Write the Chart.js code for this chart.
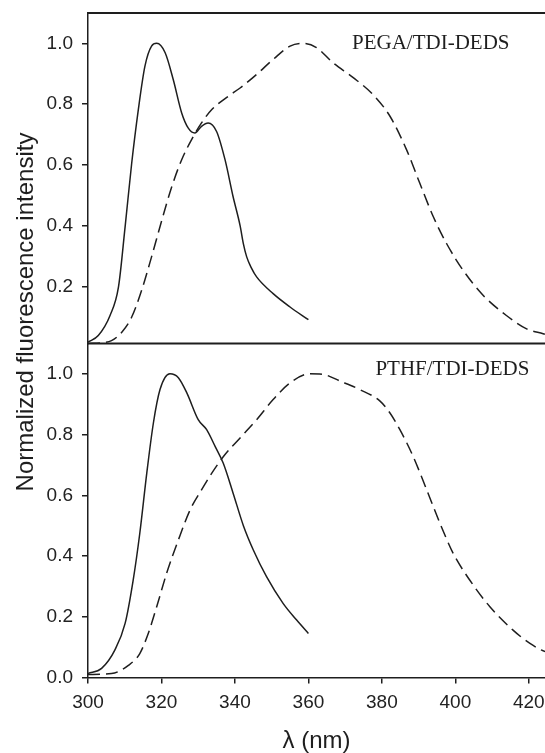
<!DOCTYPE html>
<html>
<head>
<meta charset="utf-8">
<script src="https://cdn.jsdelivr.net/npm/chart.js@4.4.1/dist/chart.umd.min.js"></script>
<style>
html,body{margin:0;padding:0;background:#fff;}
canvas{display:block;}
</style>
</head>
<body>
<canvas id="c" width="545" height="753"></canvas>
<script>
// ---- data ----
const xTicks = [300, 320, 340, 360, 380, 400, 420];
const topTicks = [0.2, 0.4, 0.6, 0.8, 1.0];
const bottomTicks = [0.0, 0.2, 0.4, 0.6, 0.8, 1.0];

const pegaSolidX = [300, 302.8, 306, 308.3, 310.1, 311.9, 313.7, 315.5, 317.3, 318.7, 321, 323.2, 325.5, 327.3, 329.1, 330.9, 332.7, 335, 337.3, 339.5, 341.4, 342.3, 343.2, 344.5, 345.9, 350.4, 355, 360];
const pegaSolidY = [0.016, 0.038, 0.104, 0.198, 0.396, 0.606, 0.782, 0.925, 0.991, 1.0, 0.969, 0.881, 0.771, 0.721, 0.705, 0.727, 0.738, 0.71, 0.617, 0.495, 0.40, 0.34, 0.297, 0.26, 0.231, 0.176, 0.132, 0.09];

const pegaDashX = [300, 303.7, 306.4, 309.2, 311.9, 314.6, 317.3, 320.1, 322.8, 325.5, 328.2, 330.9, 333.7, 338.2, 341.4, 345.9, 350.4, 355, 358.6, 362.2, 366.7, 372.2, 377.6, 382.2, 386.7, 390.3, 394, 397.6, 402.1, 407.6, 413.9, 419.4, 423.9, 425];
const pegaDashY = [0.012, 0.014, 0.021, 0.049, 0.099, 0.187, 0.297, 0.418, 0.528, 0.617, 0.683, 0.738, 0.782, 0.826, 0.853, 0.898, 0.947, 0.991, 1.0, 0.986, 0.936, 0.887, 0.831, 0.76, 0.65, 0.54, 0.429, 0.341, 0.253, 0.17, 0.104, 0.06, 0.044, 0.04];

const pthfSolidX = [300, 303.7, 307.3, 310.1, 312.3, 314.1, 316, 317.8, 319.6, 322.3, 324.6, 326.9, 330, 332.3, 334.6, 336.8, 339.5, 342.3, 345, 348.6, 353.1, 356.8, 360];
const pthfSolidY = [0.013, 0.03, 0.09, 0.178, 0.321, 0.475, 0.673, 0.838, 0.948, 1.0, 0.987, 0.937, 0.849, 0.816, 0.761, 0.706, 0.607, 0.50, 0.42, 0.332, 0.244, 0.189, 0.145];

const pthfDashX = [300, 306.4, 311, 314.1, 316.4, 318.7, 321.4, 324.6, 327.8, 330.9, 333.7, 337.3, 341.4, 345.9, 350.4, 355, 360.4, 364, 368.6, 374, 379.5, 382.2, 384.9, 388.5, 392.2, 395.8, 399.4, 403.9, 409.4, 415.7, 420.3, 423.5, 425];
const pthfDashY = [0.01, 0.013, 0.04, 0.079, 0.145, 0.233, 0.343, 0.453, 0.552, 0.618, 0.673, 0.734, 0.789, 0.849, 0.915, 0.97, 1.0, 0.998, 0.976, 0.948, 0.91, 0.871, 0.816, 0.728, 0.618, 0.508, 0.409, 0.321, 0.233, 0.156, 0.112, 0.09, 0.083];

const panelLabels = ['PEGA/TDI-DEDS', 'PTHF/TDI-DEDS'];
const panelLabelPos = [[393.3, 1.0], [399.2, 1.014]];
const xTitle = 'λ (nm)';
const yTitle = 'Normalized fluorescence intensity';

// ---- build ----
const zip = (xs, ys) => xs.map((x, i) => ({x: x, y: ys[i]}));
const INK = '#1e1e1e';
const sansFont = '"Liberation Sans", Arial, Helvetica, sans-serif';
const serifFont = '"Liberation Serif", "Times New Roman", serif';

function ds(data, axis, dashed) {
  return {
    data: data, yAxisID: axis,
    borderColor: INK, borderWidth: 1.5,
    borderDash: dashed ? [12, 6] : [],
    pointRadius: 0, fill: false,
    cubicInterpolationMode: 'monotone'
  };
}

const tickSetter = (arr) => (scale) => { scale.ticks = arr.map(v => ({value: v})); };

const decor = {
  id: 'decor',
  afterDraw(chart) {
    const ctx = chart.ctx;
    const a = chart.chartArea;
    const yT = chart.scales.yTop, yB = chart.scales.yBottom, x = chart.scales.x;
    ctx.save();
    ctx.strokeStyle = INK;
    ctx.lineWidth = 2;
    ctx.beginPath();
    ctx.moveTo(a.left, a.top); ctx.lineTo(a.right, a.top);
    ctx.moveTo(a.left, yT.bottom); ctx.lineTo(a.right, yT.bottom);
    ctx.stroke();
    // panel labels
    ctx.fillStyle = INK;
    ctx.font = '21px ' + serifFont;
    ctx.textAlign = 'center';
    ctx.textBaseline = 'middle';
    ctx.fillText(panelLabels[0], x.getPixelForValue(panelLabelPos[0][0]), yT.getPixelForValue(panelLabelPos[0][1]));
    ctx.fillText(panelLabels[1], x.getPixelForValue(panelLabelPos[1][0]), yB.getPixelForValue(panelLabelPos[1][1]));
    // axis titles
    ctx.font = '24px ' + sansFont;
    ctx.textBaseline = 'alphabetic';
    ctx.fillText(xTitle, (a.left + a.right) / 2, 748);
    ctx.translate(33, 312);
    ctx.rotate(-Math.PI / 2);
    ctx.fillText(yTitle, 0, 0);
    ctx.restore();
  }
};

const yCommon = {
  type: 'linear', position: 'left', stack: 'panels',
  border: {display: true, color: INK, width: 1.5},
  grid: {display: true, drawOnChartArea: false, drawTicks: true, tickLength: 6, color: INK, lineWidth: 1.5},
  ticks: {color: '#222', font: {family: sansFont, size: 19}, padding: 9, callback: v => Number(v).toFixed(1)},
  afterFit: (s) => { s.width = 88; s.paddingTop = 0; s.paddingBottom = 0; }
};

new Chart(document.getElementById('c'), {
  type: 'line',
  data: {
    datasets: [
      ds(zip(pegaSolidX, pegaSolidY), 'yTop', false),
      ds(zip(pegaDashX, pegaDashY), 'yTop', true),
      ds(zip(pthfSolidX, pthfSolidY), 'yBottom', false),
      ds(zip(pthfDashX, pthfDashY), 'yBottom', true)
    ]
  },
  options: {
    responsive: false, animation: false, devicePixelRatio: 1,
    layout: {padding: {top: 13, right: 0, left: 0, bottom: 0}},
    plugins: {legend: {display: false}, tooltip: {enabled: false}},
    scales: {
      x: {
        type: 'linear', position: 'bottom', min: 300, max: 424.4,
        border: {display: true, color: INK, width: 1.5},
        grid: {display: true, drawOnChartArea: false, drawTicks: true, tickLength: 6, color: INK, lineWidth: 1.5},
        ticks: {color: '#222', font: {family: sansFont, size: 19}, padding: 8, maxRotation: 0, autoSkip: false},
        afterBuildTicks: tickSetter(xTicks),
        afterFit: (s) => { s.height = 75.5; s.paddingLeft = 0; s.paddingRight = 0; }
      },
      yBottom: Object.assign({}, yCommon, {min: 0, max: 1.1, stackWeight: 1.1, afterBuildTicks: tickSetter(bottomTicks)}),
      yTop: Object.assign({}, yCommon, {min: 0.012, max: 1.1, stackWeight: 1.088, afterBuildTicks: tickSetter(topTicks)})
    }
  },
  plugins: [decor]
});
</script>
</body>
</html>
